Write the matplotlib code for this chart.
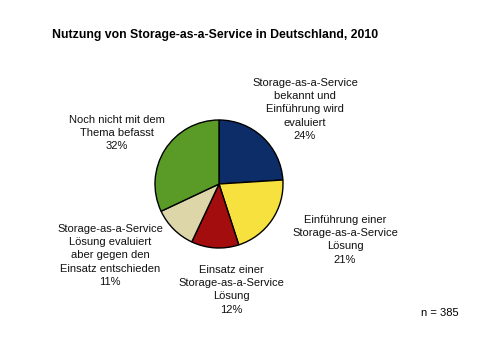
import matplotlib as mpl
mpl.use('Agg')
import matplotlib.pyplot as plt

# data (clockwise from 12 o'clock)
labels = ['Storage-as-a-Service\nbekannt und\nEinführung wird\nevaluiert',
          'Einführung einer\nStorage-as-a-Service\nLösung',
          'Einsatz einer\nStorage-as-a-Service\nLösung',
          'Storage-as-a-Service\nLösung evaluiert\naber gegen den\nEinsatz entschieden',
          'Noch nicht mit dem\nThema befasst']
shares = [24, 21, 12, 11, 32]
colors = ['#0d2d68', '#f6e13e', '#a30d0d', '#ddd6a9', '#5a9a26']
title = 'Nutzung von Storage-as-a-Service in Deutschland, 2010'
n_note = 'n = 385'

plt.rcParams['font.family'] = ['Liberation Sans', 'DejaVu Sans']

fig = plt.figure(figsize=(5, 3.4), dpi=100)
ax = fig.add_axes([0, 0, 1, 1])

ax.pie(shares, colors=colors, startangle=90, counterclock=False,
       center=(219, 156), radius=64, frame=True,
       wedgeprops=dict(edgecolor='black', linewidth=1))
ax.set_xlim(0, 500)
ax.set_ylim(0, 340)
ax.set_aspect('equal')
ax.axis('off')

# label anchor points (pixel coords, top of text block)
lab_pos = [(305, 262), (345, 125), (231, 75), (110, 116), (117, 225)]
for lab, s, (x, y) in zip(labels, shares, lab_pos):
    ax.text(x, y, lab + '\n%d%%' % s, ha='center', va='top', fontsize=8,
            linespacing=1.4, color='#111111')

ax.text(52, 305, title, ha='left', va='center', fontsize=8.8, fontweight='bold')
ax.text(440, 27, n_note, ha='center', va='center', fontsize=8)

fig.savefig('out.png', dpi=100)
